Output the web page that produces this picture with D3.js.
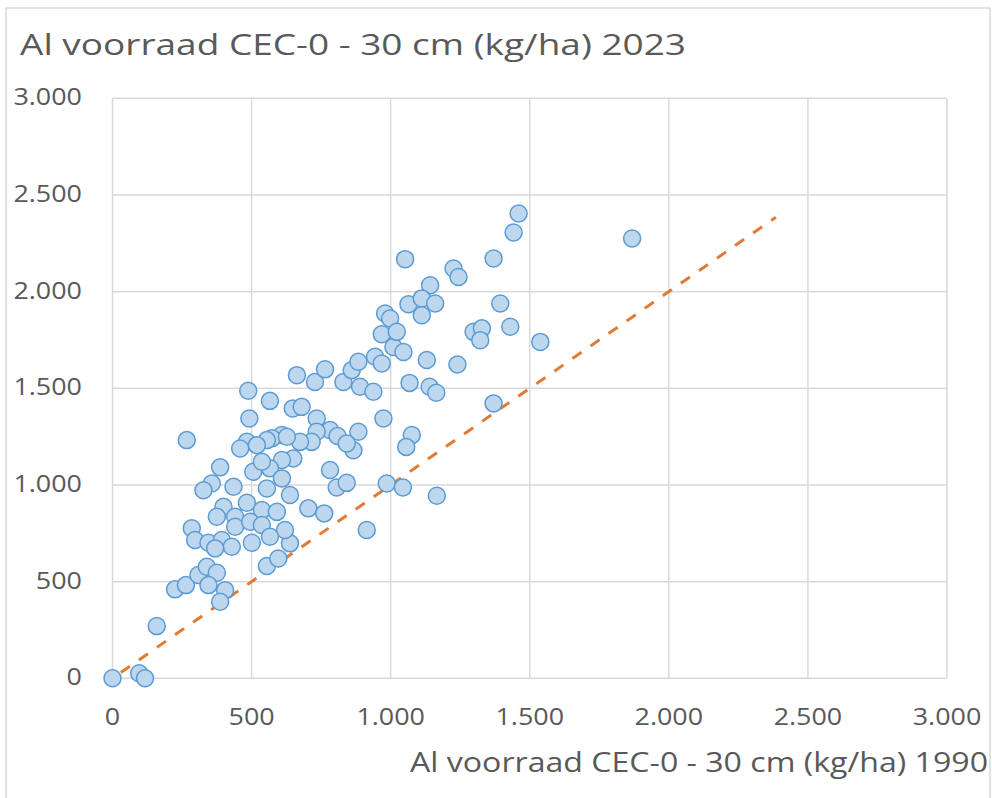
<!DOCTYPE html>
<html>
<head>
<meta charset="utf-8">
<script src="https://cdn.jsdelivr.net/npm/d3@7"></script>
<style>
  body { margin: 0; background: #fff; }
  text { font-family: "Open Sans", sans-serif; fill: #595959; }
</style>
</head>
<body>
<svg id="chart" width="992" height="798"></svg>
<script>
// Al voorraad CEC 0-30 cm, 1990 (x) vs 2023 (y), kg/ha
const al1990 = [
  0, 96, 117, 159, 225, 264, 309, 339, 375, 345, 405, 387, 555, 596, 638, 620,
  704, 761, 782, 806, 866, 267, 488, 566, 492, 648, 680, 734, 782, 809, 734, 716,
  674, 609, 573, 555, 483, 459, 650, 609, 566, 506, 537, 609, 555, 638, 387, 357,
  327, 435, 483, 537, 591, 399, 375, 441, 441, 495, 537, 566, 285, 297, 345, 393,
  429, 501, 663, 728, 764, 830, 860, 884, 890, 938, 944, 968, 968, 1010, 974, 884,
  842, 842, 914, 986, 1460, 1442, 1868, 1052, 1370, 1226, 1244, 1142, 1064, 1112, 1160, 1112,
  1394, 980, 998, 1022, 1298, 1328, 1322, 1430, 1538, 1046, 1130, 1240, 1068, 1140, 1164, 1076,
  1056, 1370, 1044, 1166, 369, 519, 627
];
const al2023 = [
  0, 26, 0, 270, 460, 482, 534, 577, 546, 482, 456, 396, 581, 620, 698, 767,
  879, 853, 1077, 987, 1180, 1232, 1487, 1435, 1344, 1396, 1404, 1344, 1284, 1253, 1275, 1223,
  1223, 1258, 1241, 1232, 1223, 1189, 1137, 1129, 1086, 1068, 1120, 1034, 982, 948, 1091, 1008,
  973, 991, 908, 870, 861, 887, 836, 836, 784, 810, 793, 732, 776, 715, 701, 715,
  680, 701, 1568, 1533, 1598, 1533, 1594, 1637, 1508, 1482, 1663, 1628, 1780, 1714, 1344, 1275,
  1215, 1011, 767, 1008, 2404, 2306, 2275, 2168, 2171, 2120, 2076, 2033, 1935, 1965, 1939, 1878,
  1939, 1887, 1861, 1792, 1792, 1810, 1749, 1818, 1740, 1688, 1646, 1623, 1528, 1508, 1477, 1258,
  1197, 1422, 987, 944, 672, 1206, 1249
];
// dashed 1:1 reference line
const lineX = [30, 2385];
const lineY = [30, 2385];
const ticks = [0, 500, 1000, 1500, 2000, 2500, 3000];

const titleText = "Al voorraad CEC-0 - 30 cm (kg/ha) 2023";
const xTitleText = "Al voorraad CEC-0 - 30 cm (kg/ha) 1990";

const fmt = d => d3.format(",")(d).replace(/,/g, ".");

// the original font runs wider than Open Sans, so stretch text a bit
function widen(sel, factor) {
  sel.each(function () {
    const w = this.getComputedTextLength();
    d3.select(this)
      .attr("textLength", w * factor)
      .attr("lengthAdjust", "spacingAndGlyphs");
  });
}

const svg = d3.select("#chart");

// chart frame
svg.append("rect")
  .attr("x", 6).attr("y", 8)
  .attr("width", 984).attr("height", 795)
  .attr("fill", "#fff")
  .attr("stroke", "#D9D9D9")
  .attr("stroke-width", 1.5);

const x = d3.scaleLinear().domain([0, 3000]).range([112.5, 947]);
const y = d3.scaleLinear().domain([0, 3000]).range([678.3, 98.3]);

// gridlines
svg.append("g").selectAll("line.v")
  .data(ticks)
  .enter().append("line")
  .attr("x1", d => x(d)).attr("x2", d => x(d))
  .attr("y1", y(3000)).attr("y2", y(0))
  .attr("stroke", "#D9D9D9").attr("stroke-width", 1.5);

svg.append("g").selectAll("line.h")
  .data(ticks)
  .enter().append("line")
  .attr("x1", x(0)).attr("x2", x(3000))
  .attr("y1", d => y(d)).attr("y2", d => y(d))
  .attr("stroke", "#D9D9D9").attr("stroke-width", 1.5);

// tick labels
const yLabels = svg.append("g").selectAll("text")
  .data(ticks)
  .enter().append("text")
  .attr("x", 82)
  .attr("y", d => y(d) + 7)
  .attr("text-anchor", "end")
  .style("font-size", "24px")
  .text(fmt);
widen(yLabels, 1.12);

const xLabels = svg.append("g").selectAll("text")
  .data(ticks)
  .enter().append("text")
  .attr("x", d => x(d))
  .attr("y", 725)
  .attr("text-anchor", "middle")
  .style("font-size", "24px")
  .text(fmt);
widen(xLabels, 1.12);

// reference line
svg.append("line")
  .attr("x1", x(lineX[0])).attr("y1", y(lineY[0]))
  .attr("x2", x(lineX[1])).attr("y2", y(lineY[1]))
  .attr("stroke", "#E07B35")
  .attr("stroke-width", 3)
  .attr("stroke-dasharray", "11,11");

// points
const points = al1990.map((v, i) => ({ x: v, y: al2023[i] }));
svg.append("g").selectAll("circle")
  .data(points)
  .enter().append("circle")
  .attr("cx", d => x(d.x))
  .attr("cy", d => y(d.y))
  .attr("r", 8.5)
  .attr("fill", "#BDD7EE")
  .attr("stroke", "#5B9BD5")
  .attr("stroke-width", 1.5);

// titles
svg.append("text")
  .attr("x", 20).attr("y", 55)
  .style("font-size", "30px")
  .attr("textLength", 666)
  .attr("lengthAdjust", "spacingAndGlyphs")
  .text(titleText);

svg.append("text")
  .attr("x", 988).attr("y", 772)
  .attr("text-anchor", "end")
  .style("font-size", "26.5px")
  .attr("textLength", 578)
  .attr("lengthAdjust", "spacingAndGlyphs")
  .text(xTitleText);
</script>
</body>
</html>
